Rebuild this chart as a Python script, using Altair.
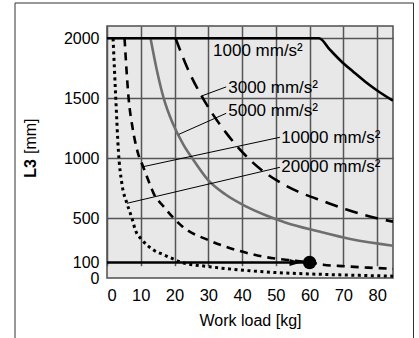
import altair as alt
import pandas as pd

# ---- axis ticks ----
x_ticks = [0, 10, 20, 30, 40, 50, 60, 70, 80]
y_ticks = [0, 100, 500, 1000, 1500, 2000]

# ---- curves (work load [kg] vs L3 [mm]) ----
w_1000 = [0, 62.8, 66, 69.5, 73, 76.4, 80, 84.7]
l_1000 = [2000, 2000, 1905, 1805, 1720, 1640, 1565, 1480]

w_3000 = [20.3, 24, 28, 31.5, 35.4, 40.3, 45.5, 50.9, 56.6, 64.5, 70.7, 77.3, 84.7]
l_3000 = [2000, 1740, 1520, 1360, 1208, 1045, 909, 805, 722, 638, 575, 519, 470]

w_5000 = [12.9, 14.8, 16.8, 19.5, 22.7, 25.5, 29.9, 35, 41.3, 47, 53, 62.5, 72.4, 84.7]
l_5000 = [2000, 1730, 1500, 1290, 1110, 990, 820, 700, 597, 525, 460, 382, 310, 252]

w_10000 = [5.2, 6.4, 7.6, 9.1, 10.7, 12.4, 13.8, 16.8, 19.8, 22.4, 29.9, 38.3, 49.2, 53.6, 60, 64, 70.4, 77.3, 84.7]
l_10000 = [2000, 1500, 1250, 1050, 930, 805, 708, 597, 500, 424, 304, 213, 138, 123, 102, 86, 76, 67, 60]

w_20000 = [1.8, 2.6, 3.4, 4.4, 5.9, 7.4, 8.4, 10.4, 13.8, 16.8, 19.8, 22, 30.4, 40.3, 53, 63, 73, 84.7]
l_20000 = [2000, 1500, 1050, 790, 625, 500, 394, 304, 213, 170, 130, 102, 73, 50, 32, 24, 18, 12]

# ---- example point ----
ex_w = [0, 60]
ex_l = [100, 100]
arrow_w = [55.8]
arrow_l = [100]
dot_w = [60]
dot_l = [100]

# ---- labels and leader lines ----
label_text = ["1000 mm/s²", "3000 mm/s²", "5000 mm/s²", "10000 mm/s²", "20000 mm/s²"]
label_w = [31.4, 35.9, 35.9, 51.6, 51.6]
label_l = [1894, 1590, 1395, 1169, 930]

lead_w1 = [28.0, 21.3, 10.7, 5.9]
lead_l1 = [1519, 1200, 930, 625]
lead_w2 = [35.3, 35.3, 51.2, 51.2]
lead_l2 = [1595, 1375, 1175, 925]

FONT = "Liberation Sans"

def series(w, l):
    return pd.DataFrame({"w": w, "l": l})

xs = alt.Scale(domain=[0, 84.7], nice=False, zero=False)
ys = alt.Scale(domain=[0, 100, 500, 2000], range=[252, 236.5, 192.3, 12.3], nice=False, zero=False)

X = alt.X("w:Q", scale=xs, axis=alt.Axis(
    values=x_ticks, title="Work load [kg]", grid=True, ticks=False, domain=False, format="d",
    labelFont=FONT, labelFontSize=16.5, labelColor="#000", labelPadding=9,
    titleFont=FONT, titleFontSize=16, titleFontWeight="normal", titleColor="#000", titlePadding=9,
    gridColor="#555", gridWidth=1.5))
Y = alt.Y("l:Q", scale=ys, axis=alt.Axis(
    values=y_ticks, title=None, grid=True, ticks=False, domain=False, format="d",
    labelFont=FONT, labelFontSize=16, labelColor="#000", labelPadding=8, labelOverlap=False,
    gridColor="#555", gridWidth=1.5,
    gridOpacity={"condition": {"test": "datum.value < 300", "value": 0}, "value": 1}))

def curve(w, l, **kw):
    return alt.Chart(series(w, l)).mark_line(interpolate="monotone", clip=True, **kw).encode(x=X, y=Y)

c1000 = curve(w_1000, l_1000, color="#000", strokeWidth=2.6)
c3000 = curve(w_3000, l_3000, color="#000", strokeWidth=2.6, strokeDash=[13, 8])
c5000 = curve(w_5000, l_5000, color="#6e6e6e", strokeWidth=2.6)
c10000 = curve(w_10000, l_10000, color="#000", strokeWidth=2.6, strokeDash=[8, 6])
c20000 = curve(w_20000, l_20000, color="#000", strokeWidth=3, strokeDash=[3, 3.5])

ex_line = alt.Chart(series(ex_w, ex_l)).mark_line(color="#000", strokeWidth=2.6).encode(x=X, y=Y)
arrow = alt.Chart(series(arrow_w, arrow_l)).mark_point(
    shape="M-1,-0.6L1,0L-1,0.6Z", filled=True, color="#000", size=140, opacity=1).encode(x=X, y=Y)
dot = alt.Chart(series(dot_w, dot_l)).mark_point(
    shape="circle", filled=True, color="#000", size=180, opacity=1).encode(x=X, y=Y)

leaders = alt.Chart(pd.DataFrame({"w": lead_w1, "l": lead_l1, "w2": lead_w2, "l2": lead_l2})).mark_rule(
    color="#000", strokeWidth=1).encode(x=X, y=Y, x2="w2:Q", y2="l2:Q")

labels = alt.Chart(pd.DataFrame({"w": label_w, "l": label_l, "t": label_text})).mark_text(
    align="left", baseline="middle", font=FONT, fontSize=17, color="#000").encode(x=X, y=Y, text="t:N")

one = pd.DataFrame({"a": [0]})
ytitle_a = alt.Chart(one).mark_text(text="L3", font=FONT, fontSize=16, fontWeight="bold",
    angle=270, align="right", baseline="middle", color="#000").encode(x=alt.value(-76), y=alt.value(133))
ytitle_b = alt.Chart(one).mark_text(text="[mm]", font=FONT, fontSize=16,
    angle=270, align="left", baseline="middle", color="#000").encode(x=alt.value(-76), y=alt.value(128))
frame = alt.Chart(one).mark_rect(fillOpacity=0, stroke="#333", strokeWidth=1).encode(
    x=alt.value(-92), x2=alt.value(306.5), y=alt.value(-23), y2=alt.value(340))

chart = alt.layer(
    c5000, c3000, c10000, c20000, c1000, ex_line, arrow, dot, leaders, labels,
    ytitle_a, ytitle_b, frame
).properties(
    width=286, height=252,
    padding={"left": 107, "top": 26, "right": 26, "bottom": 60},
    autosize=alt.AutoSizeParams(type="none"),
    background="#ffffff",
).configure_view(
    fill="#e8e8e8", stroke="#4d4d4d", strokeWidth=1.5
)

chart.save("out.html", embed_options={"renderer": "svg", "actions": False})
